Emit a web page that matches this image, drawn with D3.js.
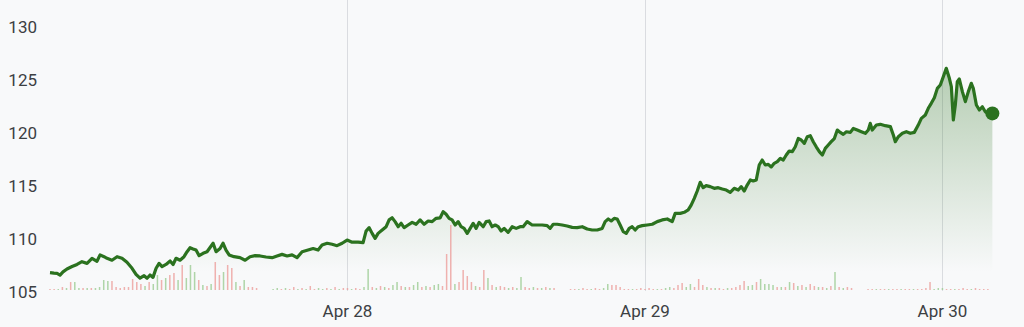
<!DOCTYPE html>
<html>
<head>
<meta charset="utf-8">
<script src="https://cdn.jsdelivr.net/npm/d3@7"></script>
<style>
  html, body { margin: 0; padding: 0; background: #f8f9fa; }
  #chart { width: 1024px; height: 327px; }
  .ylab, .xlab { font-family: Roboto, "Noto Sans", sans-serif; font-size: 17px; fill: #3c4043; }
  .grid { stroke: #dadce0; stroke-width: 1; }
  .linea { fill: none; stroke: #2b721f; stroke-width: 3.2; stroke-linejoin: round; }
</style>
</head>
<body>
<div id="chart"></div>
<script>
// horas desde el 27 abr 00:00
var horas = [0.00,0.32,0.57,0.81,1.05,1.37,1.78,2.18,2.58,2.99,3.39,3.79,4.04,4.36,4.60,5.00,5.41,5.81,6.21,6.62,
  6.94,7.26,7.59,7.83,8.07,8.31,8.56,8.80,9.04,9.36,9.69,9.93,10.17,10.49,10.81,11.06,11.30,11.54,11.78,12.03,
  12.35,12.67,13.16,13.40,13.72,13.96,14.20,14.45,14.85,15.33,15.74,16.14,16.55,16.95,17.43,17.92,18.32,18.72,19.13,19.53,
  19.93,20.34,20.82,21.23,21.63,21.95,22.36,22.76,23.16,23.57,23.97,24.37,24.86,25.26,25.50,25.75,25.99,26.23,26.47,26.80,
  27.12,27.36,27.60,27.84,28.09,28.33,28.57,28.89,29.22,29.54,29.86,30.18,30.51,30.83,31.15,31.48,31.72,31.96,32.20,32.44,
  32.69,32.93,33.17,33.41,33.66,33.90,34.14,34.38,34.62,34.95,35.19,35.43,35.67,35.92,36.16,36.40,36.64,36.96,37.29,37.61,
  37.93,38.17,38.50,38.90,39.30,39.71,40.11,40.35,40.60,40.92,41.32,41.72,42.13,42.53,42.94,43.34,43.74,44.15,44.55,44.79,
  45.04,45.28,45.52,45.76,46.00,46.25,46.49,46.73,46.97,47.21,47.46,47.78,48.18,48.59,48.99,49.39,49.80,50.20,50.44,50.85,
  51.17,51.49,51.73,51.98,52.22,52.46,52.70,52.94,53.27,53.59,53.91,54.24,54.56,54.88,55.20,55.53,55.77,56.01,56.25,56.50,
  56.74,56.98,57.22,57.46,57.71,57.95,58.19,58.43,58.68,58.92,59.16,59.40,59.64,59.89,60.13,60.37,60.61,60.86,61.10,61.34,
  61.58,61.82,62.07,62.31,62.55,62.79,63.03,63.28,63.52,63.76,64.00,64.25,64.57,64.81,65.13,65.46,65.78,66.02,66.18,66.34,
  66.67,66.99,67.39,67.80,68.04,68.20,68.44,68.77,69.09,69.41,69.73,70.05,70.30,70.62,70.86,71.10,71.35,71.59,71.83,72.07,
  72.31,72.56,72.72,72.88,73.04,73.20,73.36,73.61,73.85,74.09,74.33,74.49,74.74,74.98,75.22,75.46,75.70,76.03];

var precios = [106.82,106.78,106.76,106.60,106.90,107.17,107.40,107.60,107.86,107.70,108.18,107.90,108.50,108.33,108.18,108.00,108.33,108.18,107.80,107.24,
  106.67,106.30,106.54,106.30,106.60,106.38,107.24,107.70,107.40,107.60,107.92,107.60,108.18,108.00,108.33,108.80,109.18,109.06,108.96,108.43,
  108.65,108.80,109.60,108.80,109.10,109.60,108.96,108.50,108.33,108.24,108.00,108.33,108.43,108.40,108.30,108.24,108.40,108.55,108.40,108.50,
  108.24,108.80,108.96,109.10,108.96,109.43,109.60,109.50,109.37,109.60,109.90,109.70,109.70,109.65,110.75,111.07,110.53,110.06,110.53,110.85,
  111.16,111.80,112.00,111.64,111.16,111.48,111.07,111.32,111.57,111.39,111.80,111.39,111.70,111.64,111.95,112.00,112.58,112.33,111.95,111.80,
  111.32,111.64,111.16,111.00,110.53,111.00,111.48,111.00,111.57,111.16,111.64,111.70,111.16,111.32,111.16,110.75,111.00,110.63,111.16,111.00,
  111.16,111.16,111.64,111.32,111.32,111.32,111.26,111.00,111.39,111.39,111.32,111.23,111.10,111.07,111.16,110.94,110.85,110.85,111.00,111.64,
  111.89,111.70,111.95,111.89,111.32,110.69,110.53,111.00,111.16,110.85,111.16,111.26,111.32,111.39,111.64,111.80,111.89,111.64,112.42,112.42,
  112.52,112.74,113.20,113.84,114.53,115.35,114.84,115.03,114.94,114.78,114.84,114.72,114.62,114.40,114.78,114.62,114.94,114.53,115.09,115.57,
  115.47,115.57,116.98,117.45,116.98,117.04,116.80,117.14,117.30,117.60,117.45,117.92,118.30,118.24,118.70,119.48,119.34,119.03,119.65,119.75,
  119.18,118.70,118.24,117.92,118.55,118.87,119.18,119.48,120.28,120.05,119.87,120.12,120.06,120.43,120.28,120.12,119.97,120.28,120.91,120.28,
  120.75,120.82,120.69,120.60,119.81,119.18,119.65,119.97,120.12,119.97,120.06,120.75,121.38,121.70,122.33,122.80,123.33,124.21,124.53,125.31,
  126.10,125.16,124.37,121.23,122.64,124.84,125.10,123.90,122.96,123.90,124.69,124.21,122.64,122.17,122.48,122.00,121.85,121.85];

// volumen cada 20 minutos
var volumen = [1,1,1,3,2,8,8,2,2,2,2,2,3,10,9,9,3,2,3,3,
  11,8,6,4,8,6,15,10,12,15,17,10,25,12,25,18,10,5,4,6,
  28,15,18,25,22,8,4,10,3,3,2,0,0,0,1,2,1,2,1,3,
  1,2,1,4,1,2,1,2,1,3,1,2,2,1,2,1,3,21,3,2,
  4,3,2,5,8,4,3,3,5,8,3,4,3,5,6,4,36,65,6,8,
  20,14,8,4,3,20,12,5,3,4,3,2,3,2,13,3,2,3,2,2,
  3,2,2,0,0,0,1,1,1,2,1,1,2,1,2,6,5,5,3,1,
  1,1,1,2,1,2,1,1,1,2,3,2,5,7,3,6,3,11,5,3,
  2,2,2,1,2,2,3,5,9,4,5,8,11,6,6,5,3,3,3,8,
  7,4,5,3,6,4,3,3,2,4,18,3,2,3,2,0,0,0,1,1,
  1,1,1,1,1,1,1,1,1,1,1,1,2,8,1,2,2,1,1,1,
  1,2,1,1,2,1,1,1];
// color de cada barra: g sube, r baja
var direccion = ("rrgrgrggrgrggggrrrrr" + "rrrgrggrgrrgrgggrgrg" + "rrgrrgrgrrrrrrggrgrr" +
  "grgrrggrgrgrrgrrggrg" + "rgrggrgrggrgrggrrrgr" + "rrrgrrgrgrrgrggrrgrg" +
  "rgrrrrrrgrrgrrggrrrr" + "rgrrrrrgrggrrrggrrrg" + "rgrrgrrrrggrggggrgrg" +
  "rgrgrrgrgrgrgrrrrrrr" + "grrgrrgrrgrrrrgggrrg" + "rrrgrrrr").split("");

var yTicks = [105, 110, 115, 120, 125, 130];
var dias = ["Apr 28", "Apr 29", "Apr 30"];

var width = 1024, height = 327;
var inicio = new Date(2020, 3, 27, 0, 0);
var fin = new Date(2020, 3, 30, 4, 0);
function aFecha(h){ return new Date(inicio.getTime() + h * 3600000); }

var svg = d3.select("#chart").append("svg")
  .attr("width", width).attr("height", height);

var x = d3.scaleTime().domain([inicio, fin]).range([50, 992]);
var y = d3.scaleLinear().domain([105, 130]).range([292, 27]);
var yVol = d3.scaleLinear().domain([0, 100]).range([290, 190]);

var defs = svg.append("defs");
var grad = defs.append("linearGradient").attr("id", "relleno")
  .attr("gradientUnits", "userSpaceOnUse")
  .attr("x1", 0).attr("y1", y(126)).attr("x2", 0).attr("y2", 272);
grad.append("stop").attr("offset", 0).attr("stop-color", "#2b721f").attr("stop-opacity", 0.32);
grad.append("stop").attr("offset", 1).attr("stop-color", "#2b721f").attr("stop-opacity", 0);

// lineas verticales de los dias
var fechasDias = dias.map(function(d, i){ return new Date(2020, 3, 28 + i); });
svg.selectAll(".grid").data(fechasDias).enter().append("line")
  .attr("class", "grid")
  .attr("x1", function(d){ return Math.round(x(d)) + 0.5; })
  .attr("x2", function(d){ return Math.round(x(d)) + 0.5; })
  .attr("y1", 0).attr("y2", 291);

var datos = horas.map(function(h, i){ return {t: aFecha(h), v: precios[i]}; });

// area
var area = d3.area()
  .x(function(d){ return x(d.t); })
  .y0(272)
  .y1(function(d){ return y(d.v); });
svg.append("path").datum(datos)
  .attr("d", area)
  .attr("fill", "url(#relleno)");

// barras de volumen
var vols = volumen.map(function(v, i){
  return {t: aFecha(i / 3), v: v, up: direccion[i] == "g"};
});
svg.selectAll(".vol").data(vols).enter().append("rect")
  .attr("class", "vol")
  .attr("x", function(d){ return x(d.t) - 0.75; })
  .attr("width", 1.5)
  .attr("y", function(d){ return yVol(d.v); })
  .attr("height", function(d){ return 290 - yVol(d.v); })
  .attr("fill", function(d){ return d.up ? "#9ccc94" : "#ec9f9c"; })
  .attr("opacity", 0.8);

// linea de precio
var linea = d3.line()
  .x(function(d){ return x(d.t); })
  .y(function(d){ return y(d.v); });
svg.append("path").datum(datos)
  .attr("class", "linea")
  .attr("d", linea);

var ultimo = datos[datos.length - 1];
svg.append("circle")
  .attr("cx", x(ultimo.t)).attr("cy", y(ultimo.v))
  .attr("r", 7).attr("fill", "#2b721f");

// ejes
svg.selectAll(".ylab").data(yTicks).enter().append("text")
  .attr("class", "ylab")
  .attr("x", 37)
  .attr("y", function(d){ return y(d); })
  .attr("dy", "0.35em")
  .attr("text-anchor", "end")
  .text(function(d){ return d; });

svg.selectAll(".xlab").data(fechasDias).enter().append("text")
  .attr("class", "xlab")
  .attr("x", function(d){ return x(d); })
  .attr("y", 311)
  .attr("dy", "0.35em")
  .attr("text-anchor", "middle")
  .text(function(d, i){ return dias[i]; });
</script>
</body>
</html>
